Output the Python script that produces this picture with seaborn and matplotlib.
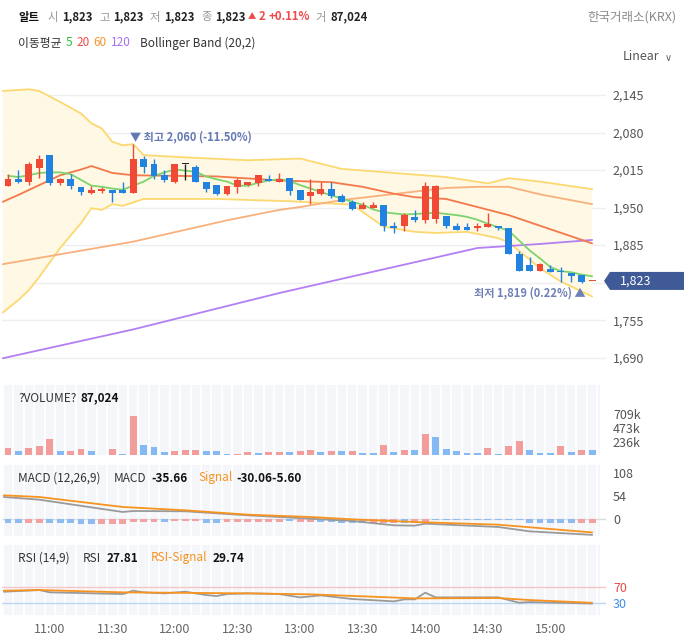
import numpy as np
import matplotlib
matplotlib.use("Agg")
import matplotlib.pyplot as plt
from matplotlib.patches import Polygon
import seaborn as sns

sns.set_style("white")
plt.rcParams["font.family"] = ["Noto Sans CJK KR", "DejaVu Sans"]
plt.rcParams["axes.unicode_minus"] = False

# 5-minute candles, 10:40 .. 15:20
opens = [1987, 1999, 1994, 2019, 2041, 1993, 1999, 1985, 1976, 1980,
         1980, 1980, 1976, 2035, 2025, 2006, 1995, 2026, 2020, 1995,
         1990, 1973, 1985, 1989, 1993, 2000, 1995, 2001, 1980, 1970,
         1974, 1983, 1970, 1960, 1947, 1950, 1955, 1919, 1918, 1933,
         1929, 1987, 1935, 1918, 1912, 1915, 1922, 1918, 1914, 1870,
         1841, 1852, 1843, 1839, 1837, 1834, 1823]
highs = [2009, 2015, 2029, 2041, 2041, 2002, 2009, 1986, 1987, 1986,
         1980, 1994, 2060, 2039, 2035, 2015, 2026, 2026, 2023, 1995,
         1990, 1988, 2002, 1995, 2006, 2006, 2010, 2001, 1980, 2000,
         1995, 1995, 1973, 1964, 1960, 1959, 1955, 1925, 1941, 1946,
         1995, 1989, 1935, 1924, 1924, 1924, 1941, 1918, 1914, 1875,
         1865, 1854, 1850, 1847, 1837, 1834, 1823]
lows = [1987, 1993, 1990, 2002, 1990, 1990, 1983, 1971, 1974, 1975,
        1960, 1976, 1975, 2010, 1999, 1994, 1993, 1997, 1994, 1977,
        1972, 1971, 1976, 1987, 1988, 1996, 1994, 1971, 1964, 1956,
        1971, 1967, 1960, 1946, 1947, 1949, 1909, 1906, 1909, 1925,
        1923, 1924, 1915, 1912, 1912, 1910, 1916, 1912, 1870, 1840,
        1841, 1841, 1838, 1821, 1821, 1819, 1823]
closes = [1999, 1994, 2025, 2035, 1992, 1999, 1988, 1977, 1980, 1981,
          1976, 1976, 2035, 2021, 2004, 1997, 2025, 2026, 1995, 1983,
          1974, 1987, 1997, 1994, 2006, 1996, 1999, 1979, 1964, 1977,
          1983, 1970, 1960, 1947, 1954, 1954, 1919, 1915, 1937, 1928,
          1987, 1931, 1918, 1912, 1916, 1919, 1916, 1914, 1870, 1841,
          1851, 1841, 1838, 1838, 1831, 1821, 1823]
candle_dir = "udu" "udud" "duudd" "udddu" "fddd" "uuuud" "uddu" "udddu" "udduduuddd" "uudddd" "uddddu"

volumes = [132000, 75000, 132000, 167000, 288000, 75000, 75000, 115000, 75000, 12000,
           115000, 29000, 685000, 184000, 150000, 63000, 81000, 98000, 98000, 81000,
           81000, 29000, 29000, 63000, 46000, 63000, 63000, 63000, 81000, 98000,
           63000, 81000, 81000, 81000, 46000, 46000, 184000, 63000, 98000, 98000,
           374000, 323000, 115000, 81000, 46000, 46000, 132000, 29000, 167000, 253000,
           98000, 46000, 46000, 167000, 63000, 98000, 87024]
volume_dir = "rbrrrbrrbbrbrbbbrrrbbbrrbrrbrrbrbrbbrbrbrbbbbbrbrrbbbrbrb"

ma5 = [2005, 2003, 2006, 2010, 2011, 2011, 2008, 1998, 1988, 1986,
       1983, 1981, 1988, 1995, 2005, 2011, 2016, 2014, 2012, 2004,
       1999, 1995, 1988, 1988, 1993, 1997, 1999, 1996, 1989, 1983,
       1977, 1971, 1966, 1960, 1955, 1947, 1942, 1940, 1938, 1939,
       1940, 1941, 1939, 1937, 1934, 1929, 1922, 1916, 1910, 1893,
       1876, 1862, 1847, 1840, 1838, 1834, 1831]
ma20_x = [-0.5, 1, 3, 5, 7, 8, 9, 10, 12, 20, 26, 31, 34, 37, 39, 42, 45, 48, 56]
ma20 = [1960, 1972, 1989, 2006, 2016, 2022, 2016, 2010, 2006, 2004, 1997, 1994,
        1986, 1974, 1968, 1965, 1951, 1937, 1888]
ma60_x = [-0.5, 12, 21, 26, 28, 32, 42, 45, 48, 51, 56]
ma60 = [1852, 1891, 1928, 1946, 1951, 1963, 1984, 1986, 1986, 1973, 1956]
ma120_x = [-0.5, 12, 26, 45, 51, 56]
ma120 = [1689, 1739, 1802, 1880, 1887, 1894]
bb_up_x = [-0.5, 2, 3, 5, 7, 8, 9, 10, 11, 12, 13, 17, 23, 28, 32, 37, 42, 46, 48, 51, 56]
bb_up = [2152, 2155, 2152, 2133, 2113, 2096, 2087, 2064, 2058, 2060, 2041, 2037,
         2032, 2035, 2017, 2010, 2003, 1992, 2001, 1995, 1982]
bb_lo_x = [-0.5, 1, 2, 3, 5, 7, 8, 9, 10, 11, 13, 20, 27, 33, 36, 39, 41, 44, 47, 48, 51, 53, 56]
bb_lo = [1768, 1790, 1807, 1830, 1880, 1923, 1949, 1946, 1956, 1953, 1965, 1965,
         1961, 1955, 1917, 1908, 1906, 1908, 1897, 1890, 1845, 1822, 1796]

macd_x = [-0.4, 3, 11, 12, 17, 23, 29, 33, 37, 39, 40, 47, 50, 56]
macd = [52.2, 46, 17.4, 19.7, 19, 9.7, 1.9, -3.5, -13.5, -14.3, -9.7, -17.4, -27.5, -35.66]
signal_x = [-0.4, 3, 11, 17, 23, 29, 33, 39, 47, 56]
signal = [56, 52.2, 29, 21.3, 11.2, 5.8, 0.4, -5.8, -12, -30.06]
macd_hist = [-7, -7, -7, -7, -8, -8, -8, -11, -11, -11, -11, -11, -6, -6, -6, -5, -3, -3, -3,
             -8, -8, -5, -5, -5, -5, -5, -5, -3, -5, -5, -5, -5, -7, -7, -7, -7, -7, -7,
             -7, -7, -7, -2, -2, -2, -2, -2, -2, -2, -2, -2, -7, -7, -7, -7, -7, -7, -7]
hist_dir = "bbrrbbbbbrrrrrrbrrrbbrrrrrrbrrbbbbbrrrbrrbbbbbbbbbbbbbbrr"

rsi_x = [-0.4, 3, 4, 11, 12, 13, 15, 17, 19, 20, 21, 23, 26, 28, 30, 33, 37, 38, 39, 40,
         41, 47, 49, 50, 56]
rsi = [58, 62.3, 56.4, 52.1, 60.6, 56.4, 53.8, 58, 49.6, 47, 52.1, 53.8, 52.1, 43.6,
       48.7, 39.4, 33.4, 38.5, 38.5, 55.5, 43.6, 43.6, 30, 31.7, 27.81]
rsi_sig_x = [-0.4, 3, 11, 23, 29, 35, 39, 47, 50, 56]
rsi_sig = [60.6, 62.3, 56.4, 53.8, 51.3, 45.3, 41, 41.9, 36.8, 29.74]

price_ticks = [1690, 1755, 1820, 1885, 1950, 2015, 2080, 2145]
time_labels = ["11:00", "11:30", "12:00", "12:30", "13:00", "13:30", "14:00", "14:30", "15:00"]
time_idx = [4, 10, 16, 22, 28, 34, 40, 46, 52]

RED, BLUE = "#f04a37", "#2282df"
W, H = 694, 642
XLIM = (-0.575, 57.33)
fig = plt.figure(figsize=(W / 100, H / 100), dpi=100)


def panel(top, bottom):
    a = fig.add_axes([2 / W, 1 - bottom / H, 604 / W, (bottom - top) / H])
    for s in a.spines.values():
        s.set_visible(False)
    a.set_xlim(*XLIM)
    a.set_xticks([])
    a.yaxis.tick_right()
    a.tick_params(axis="y", length=0, pad=5, labelsize=9, labelcolor="#555555")
    return a


def stripes(a):
    a.axvspan(XLIM[0], 56.77, color="#f4f6fa", zorder=0, lw=0)
    a.vlines(np.arange(-0.5, 56.6, 1), 0, 1, transform=a.get_xaxis_transform(),
             color="white", lw=1.3, zorder=0.5)


def text_row(x, y, parts, size=8.5):
    r = fig.canvas.get_renderer()
    for p in parts:
        s, color, weight, gap = p[:4]
        fs = p[4] if len(p) > 4 else size
        t = fig.text(x / W, 1 - y / H, s, color=color, fontweight=weight, fontsize=fs,
                     ha="left", va="center")
        x = t.get_window_extent(renderer=r).x1 + gap


# ---- main price chart
ax = panel(68, 380)
ax.set_ylim(1651.4, 2191.8)
ax.set_yticks(price_ticks)
last = closes[-1]
# the current-price tag sits over the tick nearest the last close
ax.set_yticklabels(["" if abs(v - last) < 20 else f"{v:,}" for v in price_ticks])
ax.grid(True, axis="y", color="#efefef", lw=1)
ax.set_axisbelow(True)

ax.fill(np.concatenate([bb_up_x, bb_lo_x[::-1]]), np.concatenate([bb_up, bb_lo[::-1]]),
        color="#fef8e4", lw=0, zorder=1)
sns.lineplot(x=bb_up_x, y=bb_up, ax=ax, color="#fcd970", lw=1.3, zorder=2)
sns.lineplot(x=bb_lo_x, y=bb_lo, ax=ax, color="#fcd970", lw=1.3, zorder=2)
sns.lineplot(x=ma120_x, y=ma120, ax=ax, color="#b37ff2", lw=1.3, zorder=3)
sns.lineplot(x=ma60_x, y=ma60, ax=ax, color="#f8b07c", lw=1.3, zorder=3)
sns.lineplot(x=ma20_x, y=ma20, ax=ax, color="#f4784a", lw=1.3, zorder=3)
sns.lineplot(x=np.arange(len(ma5)), y=ma5, ax=ax, color="#7dd36d", lw=1.3, zorder=3)

x = np.arange(len(opens))
cmap = {"u": RED, "d": BLUE, "f": "#222222"}
cols = [cmap[c] for c in candle_dir]
o, c = np.array(opens, float), np.array(closes, float)
lo_b = np.minimum(o, c)
h_b = np.abs(c - o)
min_h = 1.8
lo_b = np.where(h_b < min_h, lo_b - (min_h - h_b) / 2, lo_b)
h_b = np.maximum(h_b, min_h)
ax.vlines(x, lows, highs, colors=cols, lw=1.0, zorder=4)
ax.bar(x, h_b, bottom=lo_b, width=0.66, color=cols, lw=0, zorder=5)

hi_i, lo_i = int(np.argmax(highs)), int(np.argmin(lows))
ax.annotate(f"▼ 최고 {highs[hi_i]:,} ({(last / highs[hi_i] - 1) * 100:.2f}%)",
            xy=(hi_i, highs[hi_i]), xytext=(-3, 7), textcoords="offset pixels",
            ha="left", va="center", color="#6478b2", fontsize=8, fontweight="bold")
ax.annotate(f"최저 {lows[lo_i]:,} ({(last / lows[lo_i] - 1) * 100:.2f}%) ▲",
            xy=(lo_i, lows[lo_i]), xytext=(4, -10), textcoords="offset pixels",
            ha="right", va="center", color="#6e80b4", fontsize=8, fontweight="bold")

# current price tag
fig.canvas.draw()
yd = ax.transData.transform((0, last))[1]
pts = [(604, yd), (610, yd + 9), (684, yd + 9), (684, yd - 9), (610, yd - 9)]
fig.patches.append(Polygon([(px / W, py / H) for px, py in pts], closed=True,
                           transform=fig.transFigure, color="#3f5a96", lw=0))
fig.text(636 / W, yd / H, f"{last:,}", color="white", fontsize=9, ha="center", va="center")

# ---- volume
axv = panel(385, 455.4)
stripes(axv)
axv.set_ylim(0, 1215000)
vmap = {"r": "#f39c9c", "b": "#85b9f3"}
axv.bar(x, volumes, width=0.66, color=[vmap[v] for v in volume_dir], lw=0, zorder=2)
axv.set_yticks([236000, 473000, 709000])
axv.set_yticklabels(["236k", "473k", "709k"])

# ---- MACD
axm = panel(465, 536)
stripes(axm)
axm.set_ylim(-38.3, 126.4)
axm.axhline(0, color="#dddddd", lw=1, zorder=1)
hmap = {"r": "#f2a2a2", "b": "#8dbbf2"}
axm.bar(x, macd_hist, width=0.66, color=[hmap[h] for h in hist_dir], lw=0, zorder=2)
sns.lineplot(x=macd_x, y=macd, ax=axm, color="#9a9a9a", lw=1.3, zorder=3)
sns.lineplot(x=signal_x, y=signal, ax=axm, color="#f7931e", lw=1.3, zorder=4)
axm.set_yticks([0, 54, 108])
axm.set_yticklabels(["0", "54", "108"])

# ---- RSI
axr = panel(545, 615)
stripes(axr)
axr.set_ylim(-1.3, 177)
axr.axhline(70, color="#f5c6c6", lw=1, zorder=1)
axr.axhline(30, color="#bcd6f5", lw=1, zorder=1)
sns.lineplot(x=rsi_x, y=rsi, ax=axr, color="#9a9a9a", lw=1.3, zorder=3)
sns.lineplot(x=rsi_sig_x, y=rsi_sig, ax=axr, color="#f7931e", lw=1.3, zorder=4)
axr.set_yticks([30, 70])
axr.set_yticklabels(["30", "70"])
axr.get_yticklabels()[0].set_color("#3a8ee6")
axr.get_yticklabels()[1].set_color("#e84a4a")
axr.set_xticks(time_idx)
axr.set_xticklabels(time_labels)
axr.tick_params(axis="x", length=0, pad=6, labelsize=9, labelcolor="#666666")

# ---- header and panel captions
text_row(18, 17, [("알트", "#111111", "bold", 9),
                  ("시", "#999999", "normal", 4), ("1,823", "#222222", "bold", 6),
                  ("고", "#999999", "normal", 4), ("1,823", "#222222", "bold", 6),
                  ("저", "#999999", "normal", 4), ("1,823", "#222222", "bold", 6),
                  ("종", "#999999", "normal", 4), ("1,823", "#222222", "bold", 2),
                  ("▲", "#f04a4a", "normal", 2, 6), ("2", "#f04a4a", "bold", 3),
                  ("+0.11%", "#f04a4a", "bold", 6),
                  ("거", "#999999", "normal", 4), ("87,024", "#222222", "bold", 0)], size=8.2)
fig.text(676 / W, 1 - 17 / H, "한국거래소(KRX)", color="#8a8a8a", fontsize=9, ha="right", va="center")
text_row(18, 43, [("이동평균", "#333333", "normal", 4), ("5", "#2dbf3a", "normal", 4),
                  ("20", "#f04a4a", "normal", 4), ("60", "#f5952e", "normal", 4),
                  ("120", "#a86ff0", "normal", 10), ("Bollinger Band (20,2)", "#333333", "normal", 0)])
fig.text(623 / W, 1 - 57 / H, "Linear", color="#555555", fontsize=9, ha="left", va="center")
fig.text(665 / W, 1 - 58 / H, "∨", color="#666666", fontsize=7, ha="left", va="center",
         family="DejaVu Sans")

text_row(18, 398, [("?VOLUME?", "#333333", "normal", 4), ("87,024", "#111111", "bold", 0)])
text_row(18, 478, [("MACD (12,26,9)", "#333333", "normal", 13), ("MACD", "#333333", "normal", 5),
                   ("-35.66", "#111111", "bold", 11), ("Signal", "#f7931e", "normal", 4),
                   ("-30.06-5.60", "#111111", "bold", 0)])
text_row(18, 558, [("RSI (14,9)", "#333333", "normal", 13), ("RSI", "#333333", "normal", 6),
                   ("27.81", "#111111", "bold", 12), ("RSI-Signal", "#f7931e", "normal", 6),
                   ("29.74", "#111111", "bold", 0)])

fig.savefig("out.png", dpi=100)
